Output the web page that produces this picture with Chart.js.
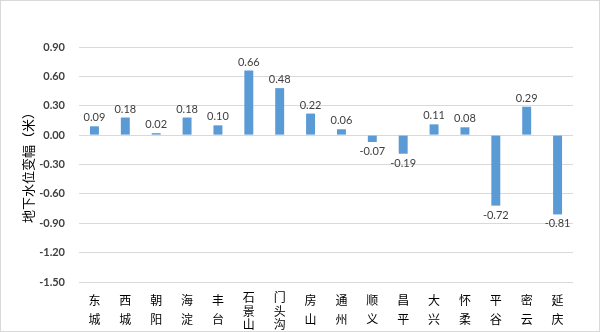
<!DOCTYPE html>
<html>
<head>
<meta charset="utf-8">
<script src="https://cdn.jsdelivr.net/npm/chart.js@4.4.1/dist/chart.umd.min.js"></script>
<style>
  html, body { margin: 0; padding: 0; background: #fff; }
  #wrap { width: 600px; height: 332px; }
</style>
</head>
<body>
<div id="wrap"><canvas id="chart" width="600" height="332"></canvas></div>
<script>
// Dados do gráfico
const districts = ['东城', '西城', '朝阳', '海淀', '丰台', '石景山', '门头沟', '房山',
  '通州', '顺义', '昌平', '大兴', '怀柔', '平谷', '密云', '延庆'];
const changes = [0.09, 0.18, 0.02, 0.18, 0.10, 0.66, 0.48, 0.22,
  0.06, -0.07, -0.19, 0.11, 0.08, -0.72, 0.29, -0.81];
const yMin = -1.5;
const yMax = 0.9;
const yStep = 0.3;
const yTitle = '地下水位变幅（米）';

const cjkFont = '"Noto Sans CJK SC", "Noto Sans", sans-serif';
const numFont = 'Lato, "Open Sans", sans-serif';

// Rótulos empilhados verticalmente (um caractere por linha)
const stackedLabels = districts.map(d => d.split(''));

// Plugin: fundo branco e borda
const frame = {
  id: 'frame',
  beforeDraw(chart) {
    const ctx = chart.ctx;
    ctx.save();
    ctx.fillStyle = '#ffffff';
    ctx.fillRect(0, 0, chart.width, chart.height);
    ctx.strokeStyle = '#d9d9d9';
    ctx.lineWidth = 1;
    ctx.strokeRect(0.5, 0.5, chart.width - 1, chart.height - 1);
    ctx.restore();
  }
};

// Plugin: valores sobre/abaixo das barras
const valueLabels = {
  id: 'valueLabels',
  afterDatasetsDraw(chart) {
    const ctx = chart.ctx;
    const meta = chart.getDatasetMeta(0);
    ctx.save();
    ctx.font = '11px ' + numFont;
    ctx.fillStyle = '#404040';
    ctx.textAlign = 'center';
    meta.data.forEach((bar, i) => {
      const v = changes[i];
      if (v >= 0) {
        ctx.textBaseline = 'bottom';
        ctx.fillText(v.toFixed(2), bar.x, bar.y - 3);
      } else {
        ctx.textBaseline = 'top';
        ctx.fillText(v.toFixed(2), bar.x, bar.y + 4);
      }
    });
    ctx.restore();
  }
};

new Chart(document.getElementById('chart'), {
  type: 'bar',
  data: {
    labels: stackedLabels,
    datasets: [{
      data: changes,
      backgroundColor: '#5b9bd5',
      borderWidth: 0,
      barPercentage: 0.58,
      categoryPercentage: 0.5
    }]
  },
  options: {
    responsive: false,
    animation: false,
    layout: { padding: { top: 47, right: 27, left: 0, bottom: 0 } },
    plugins: {
      legend: { display: false },
      tooltip: { enabled: false }
    },
    scales: {
      x: {
        grid: { display: false },
        border: { display: false },
        ticks: {
          color: '#000000',
          padding: 1,
          maxRotation: 0,
          autoSkip: false,
          font: ctx => {
            const lbl = ctx.tick && ctx.tick.label;
            const n = Array.isArray(lbl) ? lbl.length : 1;
            return { family: cjkFont, size: 12, lineHeight: n > 2 ? '13.5px' : '19px' };
          }
        },
        afterFit: s => { s.height = 50; }
      },
      y: {
        min: yMin,
        max: yMax,
        grid: { color: '#d9d9d9', drawTicks: false },
        border: { display: false },
        ticks: {
          stepSize: yStep,
          padding: 14,
          color: '#404040',
          font: { family: numFont, size: 11, weight: 'bold' },
          callback: v => (Math.abs(v) < 1e-9 ? 0 : v).toFixed(2)
        },
        title: {
          display: true,
          text: yTitle,
          color: '#000000',
          font: { family: cjkFont, size: 13 },
          padding: { top: 20, bottom: 0 }
        },
        afterFit: s => { s.width = 79; }
      }
    }
  },
  plugins: [frame, valueLabels]
});
</script>
</body>
</html>
